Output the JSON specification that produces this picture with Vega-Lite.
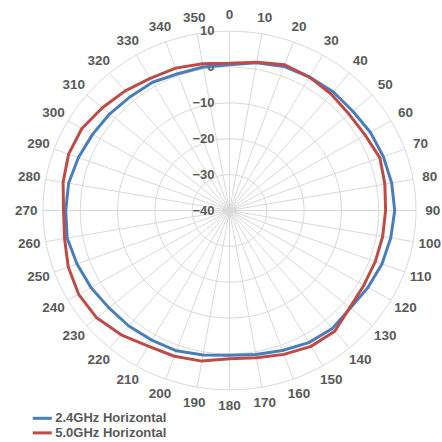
{
  "$schema": "https://vega.github.io/schema/vega-lite/v6.json",
  "width": 373,
  "height": 359,
  "autosize": {"type": "none"},
  "padding": {"left": 43, "top": 31, "right": 26, "bottom": 52},
  "config": {
    "view": {"stroke": null},
    "font": "Liberation Sans",
    "legend": {
      "orient": "none",
      "legendX": -7.2,
      "legendY": 380.8,
      "padding": 0,
      "symbolType": "M -2 0 L 2 0",
      "symbolSize": 90,
      "symbolStrokeWidth": 3,
      "labelFont": "Liberation Sans",
      "labelFontWeight": "bold",
      "labelFontSize": 13,
      "labelColor": "#595959",
      "labelOffset": 6.4,
      "rowPadding": 0.6
    }
  },
  "datasets": {
    "rings": [
      {"dB": -40}, {"dB": -30}, {"dB": -20}, {"dB": -10}, {"dB": 0}, {"dB": 10}
    ],
    "angles": [
      {"angle": 0}, {"angle": 10}, {"angle": 20}, {"angle": 30}, {"angle": 40}, {"angle": 50},
      {"angle": 60}, {"angle": 70}, {"angle": 80}, {"angle": 90}, {"angle": 100}, {"angle": 110},
      {"angle": 120}, {"angle": 130}, {"angle": 140}, {"angle": 150}, {"angle": 160}, {"angle": 170},
      {"angle": 180}, {"angle": 190}, {"angle": 200}, {"angle": 210}, {"angle": 220}, {"angle": 230},
      {"angle": 240}, {"angle": 250}, {"angle": 260}, {"angle": 270}, {"angle": 280}, {"angle": 290},
      {"angle": 300}, {"angle": 310}, {"angle": 320}, {"angle": 330}, {"angle": 340}, {"angle": 350}
    ],
    "pattern": [
      {"band": "2.4GHz Horizontal", "angle": 0, "dB": 0.6},
      {"band": "2.4GHz Horizontal", "angle": 10, "dB": 1.8},
      {"band": "2.4GHz Horizontal", "angle": 20, "dB": 2.7},
      {"band": "2.4GHz Horizontal", "angle": 30, "dB": 2.9},
      {"band": "2.4GHz Horizontal", "angle": 40, "dB": 3.2},
      {"band": "2.4GHz Horizontal", "angle": 50, "dB": 3.1},
      {"band": "2.4GHz Horizontal", "angle": 60, "dB": 3.6},
      {"band": "2.4GHz Horizontal", "angle": 70, "dB": 3.9},
      {"band": "2.4GHz Horizontal", "angle": 80, "dB": 4.15},
      {"band": "2.4GHz Horizontal", "angle": 90, "dB": 4.3},
      {"band": "2.4GHz Horizontal", "angle": 100, "dB": 3.9},
      {"band": "2.4GHz Horizontal", "angle": 110, "dB": 3.5},
      {"band": "2.4GHz Horizontal", "angle": 120, "dB": 2.85},
      {"band": "2.4GHz Horizontal", "angle": 130, "dB": 2.3},
      {"band": "2.4GHz Horizontal", "angle": 140, "dB": 2.9},
      {"band": "2.4GHz Horizontal", "angle": 150, "dB": 2.5},
      {"band": "2.4GHz Horizontal", "angle": 160, "dB": 1.5},
      {"band": "2.4GHz Horizontal", "angle": 170, "dB": 0.7},
      {"band": "2.4GHz Horizontal", "angle": 180, "dB": 0.3},
      {"band": "2.4GHz Horizontal", "angle": 190, "dB": 0.9},
      {"band": "2.4GHz Horizontal", "angle": 200, "dB": 1.6},
      {"band": "2.4GHz Horizontal", "angle": 210, "dB": 1.7},
      {"band": "2.4GHz Horizontal", "angle": 220, "dB": 2.0},
      {"band": "2.4GHz Horizontal", "angle": 230, "dB": 2.2},
      {"band": "2.4GHz Horizontal", "angle": 240, "dB": 2.9},
      {"band": "2.4GHz Horizontal", "angle": 250, "dB": 3.5},
      {"band": "2.4GHz Horizontal", "angle": 260, "dB": 4.2},
      {"band": "2.4GHz Horizontal", "angle": 270, "dB": 3.9},
      {"band": "2.4GHz Horizontal", "angle": 280, "dB": 3.8},
      {"band": "2.4GHz Horizontal", "angle": 290, "dB": 3.1},
      {"band": "2.4GHz Horizontal", "angle": 300, "dB": 2.4},
      {"band": "2.4GHz Horizontal", "angle": 310, "dB": 1.9},
      {"band": "2.4GHz Horizontal", "angle": 320, "dB": 1.4},
      {"band": "2.4GHz Horizontal", "angle": 330, "dB": 1.25},
      {"band": "2.4GHz Horizontal", "angle": 340, "dB": 0.55},
      {"band": "2.4GHz Horizontal", "angle": 350, "dB": 0.6},
      {"band": "2.4GHz Horizontal", "angle": 360, "dB": 0.6},
      {"band": "5.0GHz Horizontal", "angle": 0, "dB": 1.0},
      {"band": "5.0GHz Horizontal", "angle": 10, "dB": 1.9},
      {"band": "5.0GHz Horizontal", "angle": 20, "dB": 3.2},
      {"band": "5.0GHz Horizontal", "angle": 30, "dB": 2.9},
      {"band": "5.0GHz Horizontal", "angle": 40, "dB": 2.35},
      {"band": "5.0GHz Horizontal", "angle": 50, "dB": 1.8},
      {"band": "5.0GHz Horizontal", "angle": 60, "dB": 2.0},
      {"band": "5.0GHz Horizontal", "angle": 70, "dB": 2.9},
      {"band": "5.0GHz Horizontal", "angle": 80, "dB": 2.3},
      {"band": "5.0GHz Horizontal", "angle": 90, "dB": 1.85},
      {"band": "5.0GHz Horizontal", "angle": 100, "dB": 1.7},
      {"band": "5.0GHz Horizontal", "angle": 110, "dB": 1.6},
      {"band": "5.0GHz Horizontal", "angle": 120, "dB": 1.6},
      {"band": "5.0GHz Horizontal", "angle": 130, "dB": 2.1},
      {"band": "5.0GHz Horizontal", "angle": 140, "dB": 3.9},
      {"band": "5.0GHz Horizontal", "angle": 150, "dB": 3.7},
      {"band": "5.0GHz Horizontal", "angle": 160, "dB": 2.65},
      {"band": "5.0GHz Horizontal", "angle": 170, "dB": 1.65},
      {"band": "5.0GHz Horizontal", "angle": 180, "dB": 1.3},
      {"band": "5.0GHz Horizontal", "angle": 190, "dB": 2.6},
      {"band": "5.0GHz Horizontal", "angle": 200, "dB": 3.2},
      {"band": "5.0GHz Horizontal", "angle": 210, "dB": 3.6},
      {"band": "5.0GHz Horizontal", "angle": 220, "dB": 5.2},
      {"band": "5.0GHz Horizontal", "angle": 230, "dB": 6.5},
      {"band": "5.0GHz Horizontal", "angle": 240, "dB": 6.7},
      {"band": "5.0GHz Horizontal", "angle": 250, "dB": 6.0},
      {"band": "5.0GHz Horizontal", "angle": 260, "dB": 4.9},
      {"band": "5.0GHz Horizontal", "angle": 270, "dB": 4.5},
      {"band": "5.0GHz Horizontal", "angle": 280, "dB": 5.3},
      {"band": "5.0GHz Horizontal", "angle": 290, "dB": 5.9},
      {"band": "5.0GHz Horizontal", "angle": 300, "dB": 5.7},
      {"band": "5.0GHz Horizontal", "angle": 310, "dB": 4.5},
      {"band": "5.0GHz Horizontal", "angle": 320, "dB": 3.5},
      {"band": "5.0GHz Horizontal", "angle": 330, "dB": 2.5},
      {"band": "5.0GHz Horizontal", "angle": 340, "dB": 2.2},
      {"band": "5.0GHz Horizontal", "angle": 350, "dB": 1.5},
      {"band": "5.0GHz Horizontal", "angle": 360, "dB": 1.0}
    ]
  },
  "layer": [
    {
      "data": {"name": "rings"},
      "transform": [
        {"calculate": "datum.dB + 40", "as": "r"},
        {"calculate": "0", "as": "zero"}
      ],
      "mark": {
        "type": "point",
        "shape": "M 1 0 C 1 0.531 0.5523 0.9614 0 0.9614 C -0.5523 0.9614 -1 0.531 -1 0 C -1 -0.531 -0.5523 -0.9614 0 -0.9614 C 0.5523 -0.9614 1 -0.531 1 0 Z",
        "filled": false,
        "stroke": "#d9d9d9",
        "strokeWidth": 1,
        "opacity": 1
      },
      "encoding": {
        "x": {"field": "zero", "type": "quantitative", "scale": {"domain": [-50, 50], "nice": false, "zero": false}, "axis": null},
        "y": {"field": "zero", "type": "quantitative", "scale": {"domain": [-50, 50], "nice": false, "zero": false}, "axis": null},
        "size": {"field": "r", "type": "quantitative", "scale": {"type": "pow", "exponent": 2, "domain": [0, 50], "range": [0, 139129]}, "legend": null}
      }
    },
    {
      "data": {"name": "angles"},
      "transform": [
        {"calculate": "0", "as": "zero"},
        {"calculate": "50 * sin(datum.angle * PI / 180)", "as": "sx"},
        {"calculate": "50 * cos(datum.angle * PI / 180)", "as": "sy"}
      ],
      "mark": {"type": "rule", "stroke": "#d9d9d9", "strokeWidth": 1},
      "encoding": {
        "x": {"field": "zero", "type": "quantitative"},
        "y": {"field": "zero", "type": "quantitative"},
        "x2": {"field": "sx"},
        "y2": {"field": "sy"}
      }
    },
    {
      "data": {"name": "angles"},
      "transform": [
        {"calculate": "54.5 * sin(datum.angle * PI / 180)", "as": "lx"},
        {"calculate": "54.5 * cos(datum.angle * PI / 180)", "as": "ly"}
      ],
      "mark": {"type": "text", "font": "Liberation Sans", "fontWeight": "bold", "fontSize": 13.5, "fill": "#595959", "align": "center", "baseline": "middle"},
      "encoding": {
        "x": {"field": "lx", "type": "quantitative"},
        "y": {"field": "ly", "type": "quantitative"},
        "text": {"field": "angle", "type": "quantitative"}
      }
    },
    {
      "data": {"name": "rings"},
      "transform": [
        {"calculate": "datum.dB + 40", "as": "r"},
        {"calculate": "0", "as": "zero"}
      ],
      "mark": {"type": "text", "font": "Liberation Sans", "fontWeight": "bold", "fontSize": 13, "fill": "#595959", "align": "right", "baseline": "middle", "dx": -15},
      "encoding": {
        "x": {"field": "zero", "type": "quantitative"},
        "y": {"field": "r", "type": "quantitative"},
        "text": {"field": "dB", "type": "quantitative"}
      }
    },
    {
      "data": {"name": "pattern"},
      "transform": [
        {"calculate": "(datum.dB + 40) * sin(datum.angle * PI / 180)", "as": "px"},
        {"calculate": "(datum.dB + 40) * cos(datum.angle * PI / 180)", "as": "py"}
      ],
      "mark": {"type": "line", "strokeWidth": 3, "strokeJoin": "round"},
      "encoding": {
        "x": {"field": "px", "type": "quantitative"},
        "y": {"field": "py", "type": "quantitative"},
        "order": {"field": "angle", "type": "quantitative"},
        "color": {
          "field": "band",
          "type": "nominal",
          "title": null,
          "scale": {"domain": ["2.4GHz Horizontal", "5.0GHz Horizontal"], "range": ["#4A7EBB", "#BE4B48"]}
        }
      }
    }
  ]
}
